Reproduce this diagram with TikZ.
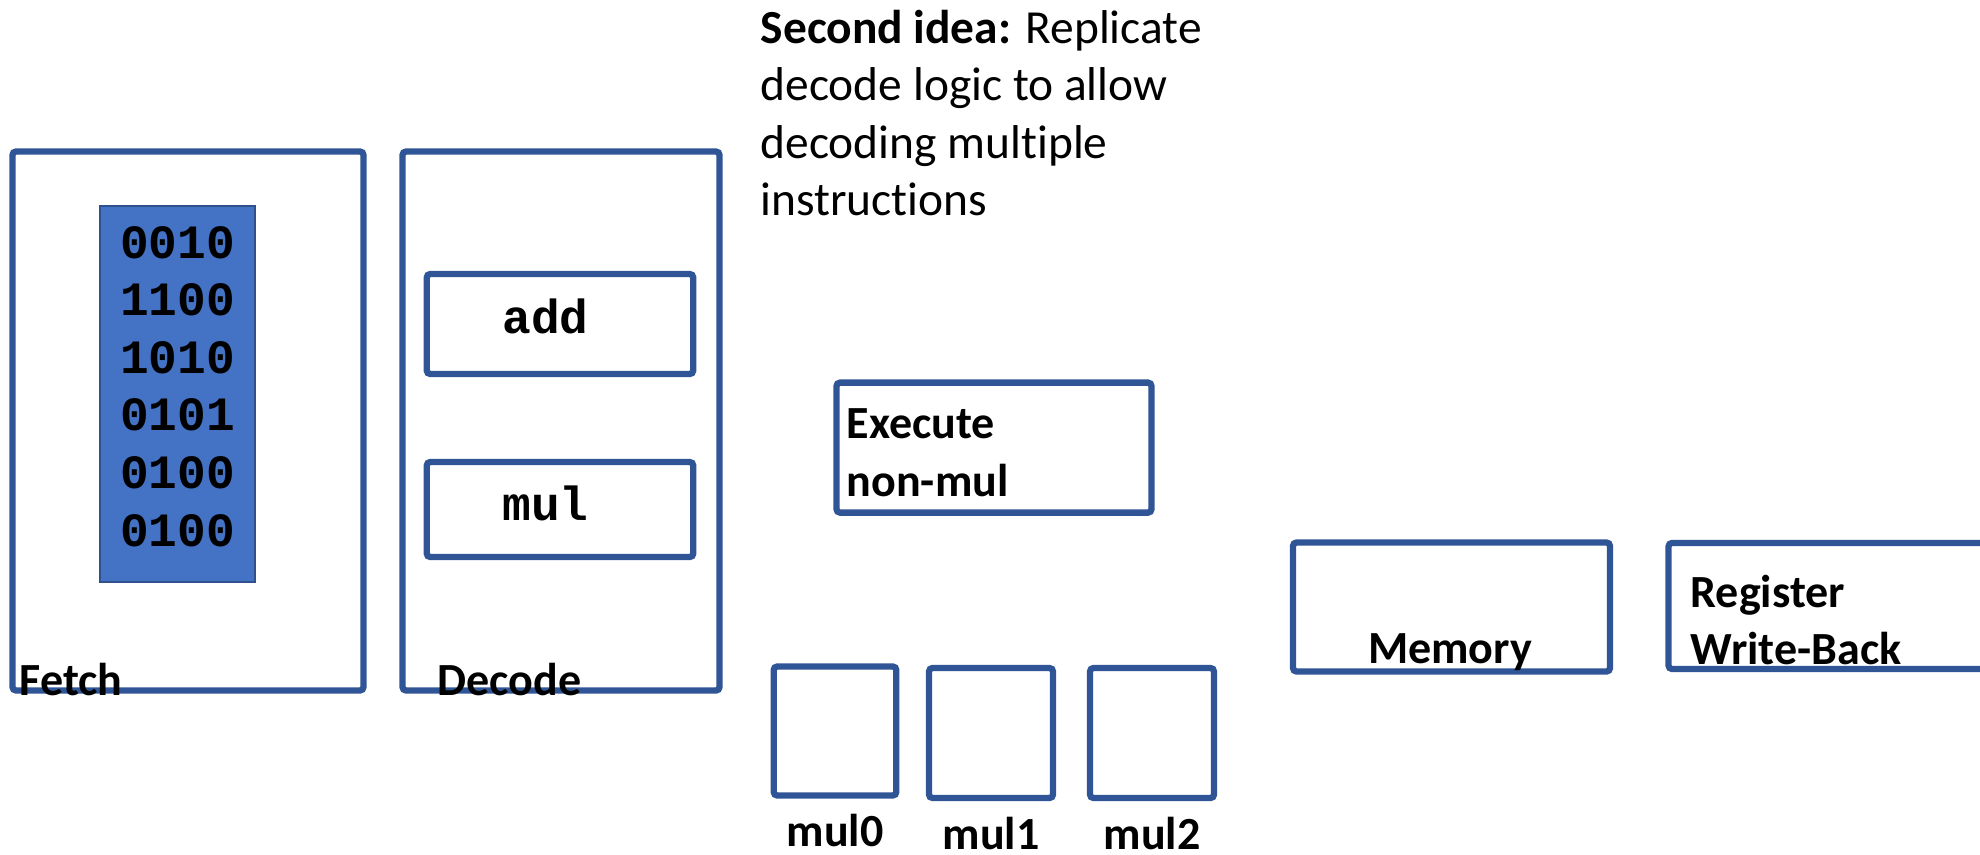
\documentclass[tikz,border=0pt]{standalone}
\usepackage{fontspec}
\setmainfont{Carlito}[Ligatures=NoCommon]
\newfontfamily\codefont{Liberation Mono}
\usetikzlibrary{positioning}
\definecolor{stageblue}{HTML}{2F5597}
\definecolor{memfill}{HTML}{4472C4}
\definecolor{memedge}{HTML}{2F528F}

\begin{document}
\begin{tikzpicture}[node distance=1.5mm,
 stage/.style={draw=stageblue,line width=1.8pt,rounded corners=1pt,inner sep=0pt},
 imem/.style={draw=memedge,line width=0.6pt,fill=memfill,inner sep=0pt},
 lbl/.style={font=\fontsize{13.1}{16.4}\selectfont\bfseries,inner sep=0pt},
 note/.style={font=\fontsize{13.5}{16.4}\selectfont,align=left,inner sep=0pt},
 code/.style={font=\fontsize{13.6}{16.4}\selectfont\codefont\bfseries,inner sep=0pt}]
\useasboundingbox (0,0) rectangle (19.8,-8.54);
% pipeline stages
\node[stage,minimum width=3.51cm,minimum height=5.39cm] (fetch) at (1.88,-4.21) {};
\node[imem,minimum width=1.55cm,minimum height=3.76cm] (imem) at (1.775,-3.94) {};
\foreach \bits [count=\i] in {0010,1100,1010,0101,0100,0100}
  \node[code,anchor=base] (bits\i) at (1.775,{-2.58-0.576*(\i-1)}) {\bits};
\node[lbl,anchor=base west] (fetchlbl) at (0.19,-6.95) {Fetch};
\node[stage,minimum width=3.17cm,minimum height=5.39cm] (decode) at (5.61,-4.21) {};
\node[stage,minimum width=2.665cm,minimum height=1.0cm] (dadd) at (5.60,-3.24) {};
\node[stage,minimum width=2.665cm,minimum height=0.95cm] (dmul) at (5.60,-5.095) {};
\node[code,anchor=base] (addtxt) at (5.455,-3.335) {add};
\node[code,anchor=base] (multxt) at (5.455,-5.20) {mul};
\node[lbl,anchor=base west] (decodelbl) at (4.37,-6.95) {Decode};
\node[note,anchor=north west] (idea) at (7.60,-0.09) {\textbf{Second idea:} Replicate\\decode logic to allow\\decoding multiple\\instructions};
\node[stage,minimum width=3.15cm,minimum height=1.30cm] (exec) at (9.94,-4.476) {};
\node[lbl,align=left,anchor=north west] (execlbl) at (8.46,-4.08) {Execute\\non-mul};
\node[stage,minimum width=1.226cm,minimum height=1.29cm] (mul0) at (8.35,-7.31) {};
\node[stage,minimum width=1.24cm,minimum height=1.30cm] (mul1) at (9.91,-7.33) {};
\node[stage,minimum width=1.24cm,minimum height=1.30cm] (mul2) at (11.52,-7.33) {};
\node[lbl,below=of mul0] (mul0lbl) {mul0};
\node[lbl,below=of mul1] (mul1lbl) {mul1};
\node[lbl,below=of mul2] (mul2lbl) {mul2};
\node[stage,minimum width=3.17cm,minimum height=1.29cm] (mem) at (14.515,-6.07) {};
\node[lbl,anchor=base] (memlbl) at (14.50,-6.63) {Memory};
\node[stage,minimum width=3.27cm,minimum height=1.26cm] (wb) at (18.32,-6.06) {};
\node[lbl,align=left,anchor=north west] (wblbl) at (16.90,-5.74) {Register\\Write-Back};
\end{tikzpicture}
\end{document}
